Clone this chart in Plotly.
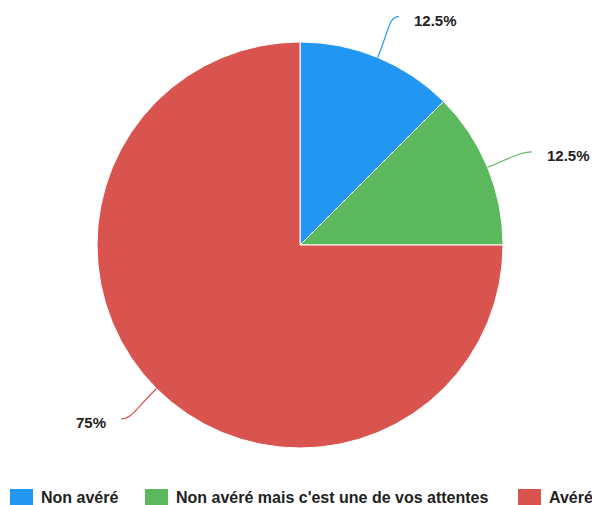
import math
import plotly.graph_objects as go

# Survey answers and their shares (%)
categories = ["Non avéré", "Non avéré mais c'est une de vos attentes", "Avéré"]
shares = [12.5, 12.5, 75]
colors = ["#2196F3", "#5CB85C", "#D9534F"]

W, H = 592, 505
CX, CY, R = 300, 245, 203        # pie centre and radius in pixels
LABEL_DIST = 45                  # connector length beyond the rim
FONT = "Liberation Sans, Arial, sans-serif"
TEXT = "#222222"


def px(x):
    return x / W


def py(y):
    return 1 - y / H


fig = go.Figure(
    go.Pie(
        labels=categories,
        values=shares,
        sort=False,
        direction="clockwise",
        rotation=0,
        textinfo="none",
        hoverinfo="label+percent",
        marker=dict(colors=colors, line=dict(color="white", width=1)),
        domain=dict(x=[px(CX - R), px(CX + R)], y=[py(CY + R), py(CY - R)]),
        showlegend=False,
    )
)

# Curved connectors and outside percentage labels, placed at each slice's mid-angle
shapes = []
annotations = []
total = sum(shares)
start = 0.0
for share, col in zip(shares, colors):
    mid = (start + share / 2) / total * 2 * math.pi
    start += share
    sx, sy = math.sin(mid), -math.cos(mid)
    side = 1 if sx >= 0 else -1
    x0, y0 = CX + R * sx, CY + R * sy
    # end of the connector, nudged slightly clockwise and outwards
    x3 = CX + (R + LABEL_DIST) * sx - 2 * sy + 2 * side
    y3 = CY + (R + LABEL_DIST) * sy + 2 * sx
    x1, y1 = CX + (R + 30) * sx, CY + (R + 30) * sy
    x2, y2 = x3 - side * 10, y3
    path = (
        f"M {px(x0)},{py(y0)} C {px(x1)},{py(y1)} {px(x2)},{py(y2)} {px(x3)},{py(y3)}"
    )
    shapes.append(
        dict(type="path", xref="paper", yref="paper", path=path,
             line=dict(color=col, width=1.2))
    )
    label = f"{share:g}%"
    annotations.append(
        dict(x=px(x3 + side * 13), y=py(y3 + 4), xref="paper", yref="paper",
             text=f"<b>{label}</b>", showarrow=False,
             xanchor="left" if side > 0 else "right", yanchor="middle",
             font=dict(family=FONT, size=15, color=TEXT))
    )

# Legend row along the bottom
legend_x = [10, 145, 518]
for name, col, lx in zip(categories, colors, legend_x):
    shapes.append(
        dict(type="rect", xref="paper", yref="paper",
             x0=px(lx), x1=px(lx + 23), y0=py(505), y1=py(489),
             fillcolor=col, line=dict(width=0))
    )
    annotations.append(
        dict(x=px(lx + 29), y=py(497), xref="paper", yref="paper",
             text=f"<b>{name}</b>", showarrow=False,
             xanchor="left", yanchor="middle",
             font=dict(family=FONT, size=16, color=TEXT))
    )

fig.update_layout(
    width=W,
    height=H,
    margin=dict(l=0, r=0, t=0, b=0),
    paper_bgcolor="white",
    plot_bgcolor="white",
    shapes=shapes,
    annotations=annotations,
)

fig.write_html("out.html")
